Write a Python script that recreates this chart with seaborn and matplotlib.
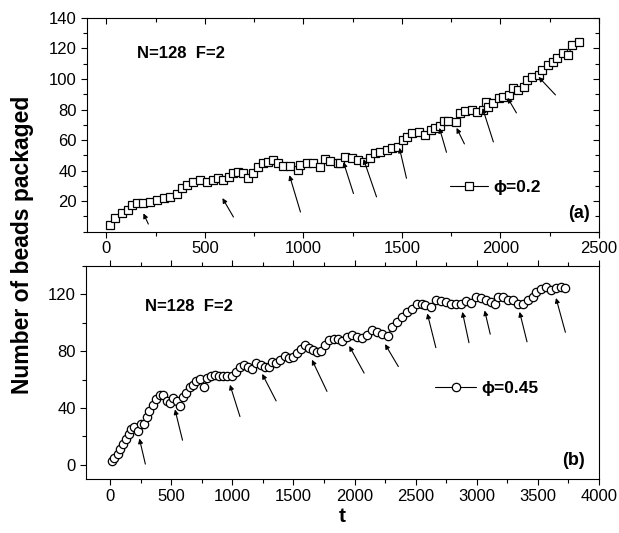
import numpy as np
import pandas as pd
import matplotlib
matplotlib.use("Agg")
import matplotlib.pyplot as plt
from matplotlib.ticker import MultipleLocator
import seaborn as sns

# Panel (a): phi = 0.2
t_a = [20, 46, 80, 112, 132, 157, 188, 223, 259, 290,
       325, 360, 386, 411, 442, 477, 513, 543, 569, 594,
       620, 645, 670, 695, 721, 746, 772, 797, 822, 848,
       873, 898, 934, 970, 985, 1020, 1051, 1086, 1112, 1137,
       1173, 1188, 1213, 1249, 1279, 1305, 1340, 1365, 1391, 1426,
       1452, 1482, 1503, 1528, 1553, 1584, 1619, 1645, 1670, 1695,
       1711, 1736, 1772, 1797, 1822, 1858, 1883, 1909, 1924, 1939,
       1964, 1990, 2015, 2041, 2066, 2091, 2117, 2137, 2162, 2193,
       2213, 2239, 2264, 2289, 2315, 2345, 2365, 2396]
n_a = [4.5, 9, 12, 14, 17.5, 18.8, 18.8, 19.5, 20.8, 22,
       22.8, 25, 28.7, 30.6, 32.6, 33.9, 32.6, 33.9, 35, 34,
       36, 38.5, 39, 38.5, 35, 38.5, 42.5, 45, 45.7, 47,
       45, 43, 43, 40.5, 43.7, 45, 45, 42.5, 47.6, 46,
       45, 45, 49, 48, 47, 45.7, 48, 51.5, 52, 53.6,
       54.8, 55.5, 60, 62, 64.7, 65.4, 63.4, 66.7, 68, 69.3,
       72.6, 72.6, 72, 77.8, 79, 79.8, 78.5, 79.8, 85, 81.8,
       84.4, 87.7, 88.3, 89.6, 94, 93, 95, 99.5, 101.4, 102.8,
       106, 109.3, 111.3, 114, 117, 115.9, 122.4, 124.4]

# arrows in panel (a): tail -> head
arr_a_tail_t = [213, 645, 985, 1254, 1371, 1523, 1726, 1817, 1964, 2081, 2279]
arr_a_tail_n = [5, 9.6, 12.9, 25, 22.8, 35, 52, 57.5, 58.8, 77.8, 89.6]
arr_a_head_t = [188, 589, 929, 1203, 1305, 1487, 1690, 1777, 1909, 2036, 2193]
arr_a_head_n = [12, 22, 37, 45.6, 47.6, 55, 68, 68, 81, 87.7, 101.4]

# Panel (b): phi = 0.45
t_b = [16, 35, 62, 81, 103, 130, 152, 171, 198, 225,
       253, 280, 298, 320, 347, 375, 407, 434, 461, 489,
       516, 543, 570, 597, 624, 652, 679, 706, 733, 769,
       795, 823, 858, 891, 923, 958, 994, 1027, 1059, 1094,
       1130, 1162, 1195, 1231, 1266, 1298, 1325, 1358, 1393, 1429,
       1461, 1494, 1529, 1565, 1592, 1624, 1657, 1692, 1728, 1760,
       1793, 1828, 1863, 1896, 1937, 1977, 2018, 2059, 2099, 2140,
       2181, 2222, 2276, 2303, 2344, 2385, 2425, 2466, 2507, 2548,
       2580, 2624, 2670, 2711, 2751, 2792, 2833, 2874, 2914, 2955,
       2996, 3037, 3077, 3118, 3146, 3173, 3213, 3254, 3295, 3336,
       3377, 3418, 3458, 3485, 3526, 3566, 3607, 3648, 3689, 3725]
n_b = [2.6, 4.7, 7.5, 11, 14.5, 18, 21.5, 25, 26.4, 23.8,
       28.5, 28.5, 34, 37.8, 42.4, 46, 49.4, 49.4, 44.8, 43.6,
       47, 44.8, 41.7, 48, 50.6, 55, 56.4, 58.7, 60.4, 55,
       61, 62.7, 63.4, 62.7, 62.7, 62.2, 62.7, 65.7, 69.2, 70.4,
       69.2, 67.4, 71.6, 70.4, 68.8, 68.8, 72.7, 71.6, 73.9, 76.7,
       75, 75.8, 78.6, 81.4, 84.4, 82, 80.9, 79.7, 80.4, 84.4,
       87.9, 88.4, 88.4, 87.4, 89.8, 91.4, 89.8, 89, 91.4, 94.9,
       93.7, 92.1, 90.7, 97.2, 100.7, 104.2, 107.7, 109.4, 113, 113,
       112.4, 111.2, 115.9, 115.4, 114.7, 113.6, 113, 113, 115.4, 114,
       118.2, 117.5, 115.9, 114.7, 113, 118.2, 118.2, 116.4, 115.9, 113.6,
       113, 115.9, 118.2, 121.7, 124, 125.2, 123.4, 124.8, 125.2, 124.8]

arr_b_tail_t = [288, 592, 1062, 1358, 1774, 2078, 2358, 2665, 2936, 3110, 3411, 3725]
arr_b_tail_n = [0.5, 17.3, 34, 45, 51.7, 64.6, 69.2, 82.5, 86, 92, 86.6, 93.3]
arr_b_head_t = [239, 530, 980, 1244, 1651, 1956, 2249, 2595, 2882, 3064, 3350, 3648]
arr_b_head_n = [18.5, 39, 56.4, 64, 74, 83.7, 85, 106.6, 107.7, 108.7, 107.7, 117.5]

sns.set_style("ticks")
FONTS = ["Liberation Sans", "DejaVu Sans"]
plt.rcParams["font.family"] = FONTS
plt.rcParams["axes.linewidth"] = 0.8
plt.rcParams["text.color"] = "black"
plt.rcParams["axes.labelcolor"] = "black"
plt.rcParams["xtick.color"] = "black"
plt.rcParams["ytick.color"] = "black"

fig = plt.figure(figsize=(6.19, 5.33), dpi=100)
ax_a = fig.add_axes([0.1400, 0.5653, 0.8277, 0.4010])
ax_b = fig.add_axes([0.1385, 0.1013, 0.8292, 0.3996])


def draw_panel(ax, t, n, marker, label, tails_t, tails_n, heads_t, heads_n):
    df = pd.DataFrame({"t": t, "n": n})
    sns.lineplot(data=df, x="t", y="n", ax=ax, color="black", lw=0.8,
                 marker=marker, markersize=6, markerfacecolor="white",
                 markeredgecolor="black", markeredgewidth=0.9, label=label)
    for tt, tn, ht, hn in zip(tails_t, tails_n, heads_t, heads_n):
        ax.annotate("", xy=(ht, hn), xytext=(tt, tn),
                    arrowprops=dict(arrowstyle="-|>", lw=0.8, color="black",
                                    mutation_scale=7, shrinkA=0, shrinkB=0))
    ax.set_xlabel("")
    ax.set_ylabel("")
    for sp in ax.spines.values():
        sp.set_visible(True)
        sp.set_color("black")


draw_panel(ax_a, t_a, n_a, "s", "ϕ=0.2",
           arr_a_tail_t, arr_a_tail_n, arr_a_head_t, arr_a_head_n)
draw_panel(ax_b, t_b, n_b, "o", "ϕ=0.45",
           arr_b_tail_t, arr_b_tail_n, arr_b_head_t, arr_b_head_n)

# axis ranges and ticks
ax_a.set_xlim(-100, 2500)
ax_a.set_ylim(0, 140)
ax_a.set_xticks(range(0, 2501, 500))
ax_a.set_yticks(range(20, 141, 20))
ax_a.xaxis.set_minor_locator(MultipleLocator(250))
ax_a.yaxis.set_minor_locator(MultipleLocator(10))
ax_a.tick_params(axis="both", which="both", direction="out", labelsize=12,
                 color="black", width=0.8, pad=3)
ax_a.tick_params(which="major", length=4)
ax_a.tick_params(which="minor", length=3)
ax_a.tick_params(axis="x", which="both", top=True, direction="out")
ax_a.tick_params(axis="y", which="both", right=True)

ax_b.set_xlim(-200, 4000)
ax_b.set_ylim(-10, 140)
ax_b.set_xticks(range(0, 4001, 500))
ax_b.set_yticks(range(0, 121, 40))
ax_b.xaxis.set_minor_locator(MultipleLocator(250))
ax_b.yaxis.set_minor_locator(MultipleLocator(20))
ax_b.tick_params(axis="both", which="both", direction="out", labelsize=12,
                 color="black", width=0.8, pad=3)
ax_b.tick_params(which="major", length=4)
ax_b.tick_params(which="minor", length=3)
ax_b.tick_params(axis="x", which="both", top=True)

# top ticks of (a) and right ticks of (a) point inward
for tk in ax_a.xaxis.get_major_ticks() + ax_a.xaxis.get_minor_ticks():
    tk.tick2line.set_marker(matplotlib.lines.TICKDOWN)
for tk in ax_a.yaxis.get_major_ticks() + ax_a.yaxis.get_minor_ticks():
    tk.tick2line.set_marker(matplotlib.lines.TICKLEFT)

# legends
for ax, anchor, hl in [(ax_a, (0.709, 0.209), 2.2), (ax_b, (0.680, 0.427), 2.4)]:
    ax.legend(loc="center left", bbox_to_anchor=anchor, frameon=False,
              borderpad=0, borderaxespad=0, handlelength=hl, handletextpad=0.3,
              prop={"family": FONTS, "weight": "bold", "size": 12.5})

# annotations
ax_a.text(0.098, 0.836, "N=128  F=2", transform=ax_a.transAxes, fontsize=12,
          fontweight="bold", ha="left", va="center")
ax_b.text(0.1155, 0.808, "N=128  F=2", transform=ax_b.transAxes, fontsize=12,
          fontweight="bold", ha="left", va="center")
ax_a.text(0.982, 0.083, "(a)", transform=ax_a.transAxes, fontsize=13,
          fontweight="bold", ha="right", va="center")
ax_b.text(0.973, 0.086, "(b)", transform=ax_b.transAxes, fontsize=13,
          fontweight="bold", ha="right", va="center")

ax_b.set_xlabel("t", fontsize=15, fontweight="bold", labelpad=2)
fig.text(0.036, 0.54, "Number of beads packaged", rotation=90, fontsize=16.5,
         fontweight="bold", ha="center", va="center")

fig.savefig("out.png", dpi=100)
